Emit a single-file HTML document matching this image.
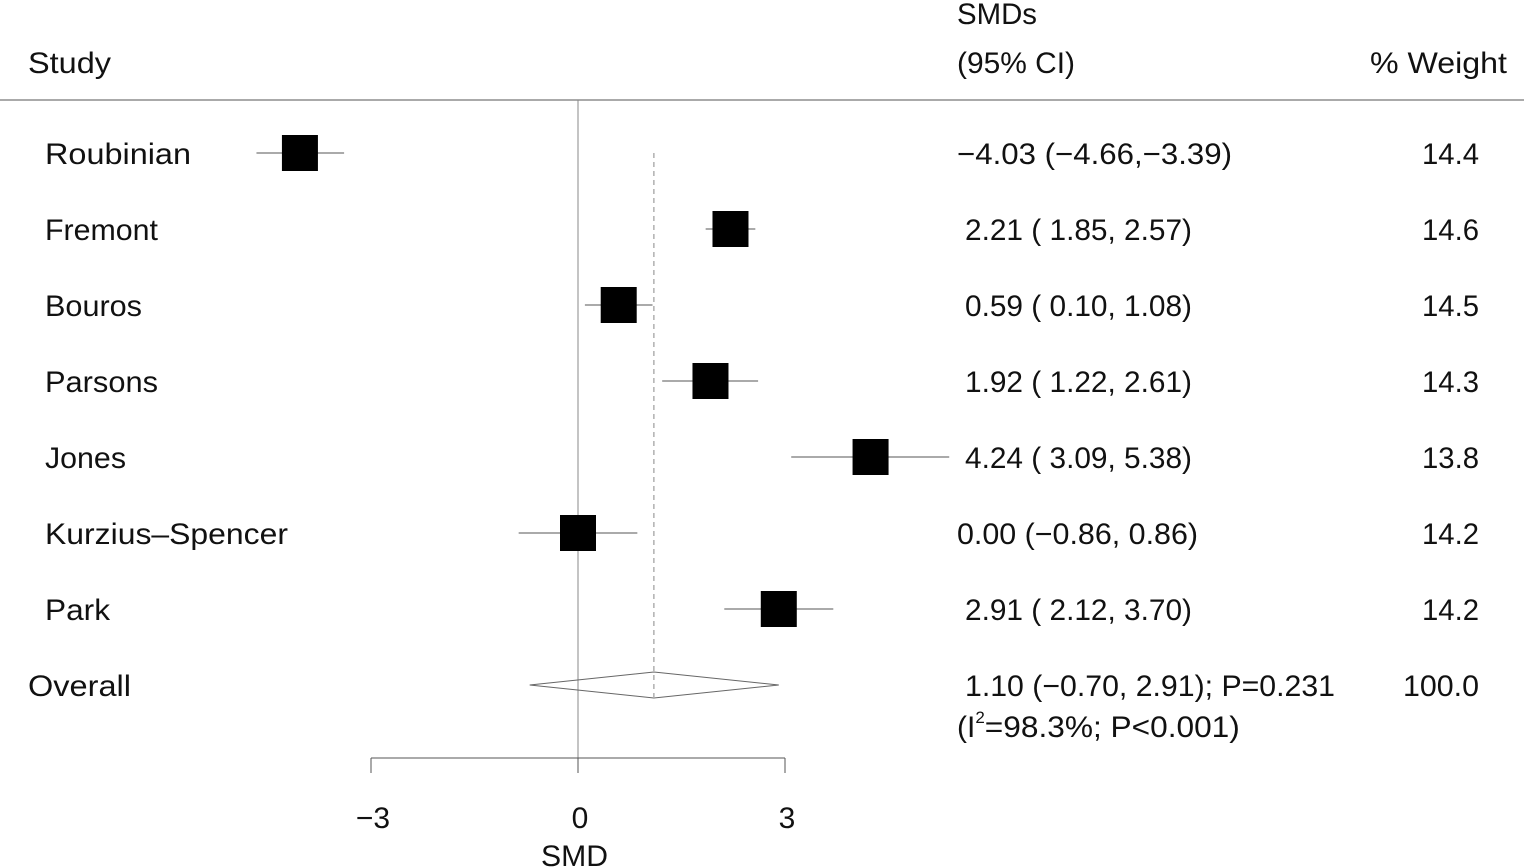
<!DOCTYPE html>
<html><head><meta charset="utf-8"><style>
body{margin:0;background:#fff}
svg{display:block;font-family:"Liberation Sans",sans-serif;font-size:30px;fill:#111}
</style></head><body>
<svg id="chart" width="1524" height="868">
<text x="957" y="24" textLength="80" lengthAdjust="spacingAndGlyphs">SMDs</text>
<text x="28" y="73" textLength="83" lengthAdjust="spacingAndGlyphs">Study</text>
<text x="957" y="73" textLength="118" lengthAdjust="spacingAndGlyphs">(95% CI)</text>
<text x="1370" y="73" textLength="137" lengthAdjust="spacingAndGlyphs">% Weight</text>
<line x1="0" y1="100" x2="1524" y2="100" stroke="#555" stroke-width="1"/>
<g id="marks"></g>
</svg>
<script>
const studies=["Roubinian","Fremont","Bouros","Parsons","Jones","Kurzius\u2013Spencer","Park"];
const smd=[-4.03,2.21,0.59,1.92,4.24,0.00,2.91];
const lo=[-4.66,1.85,0.10,1.22,3.09,-0.86,2.12];
const hi=[-3.39,2.57,1.08,2.61,5.38,0.86,3.70];
const weights=["14.4","14.6","14.5","14.3","13.8","14.2","14.2"];
const overall=[1.10,-0.70,2.91];
const ticks=[-3,0,3];
const NS="http://www.w3.org/2000/svg";
const g=document.getElementById('marks');
const X=v=>578+69*v, Y=i=>153+76*i;
const CW=7.5;
function mk(t,a,parent){const e=document.createElementNS(NS,t);for(const k in a)e.setAttribute(k,a[k]);(parent||g).appendChild(e);return e;}
function fit(el,w){el.setAttribute('textLength',w);el.setAttribute('lengthAdjust','spacingAndGlyphs');}
const fmt=v=>(v<0?"\u2212":"")+Math.abs(v).toFixed(2);
const fmtP=v=>v<0?fmt(v):" "+fmt(v);
let e=mk('line',{x1:X(0),y1:100,x2:X(0),y2:758,stroke:'#888','stroke-width':1});


e=mk('line',{x1:X(overall[0]),y1:Y(0),x2:X(overall[0]),y2:697,stroke:'#888','stroke-width':1,'stroke-dasharray':'5,4'});


studies.forEach((s,i)=>{
  const y=Y(i);
  let l=mk('line',{x1:X(lo[i]),y1:y,x2:X(hi[i]),y2:y,stroke:'#555','stroke-width':1});
  
  
  let r=mk('rect',{x:X(smd[i])-18,y:y-18,width:36,height:36,fill:'#000'});
  
  
  let t=mk('text',{x:45,y:y+11});t.textContent=s;
  fit(t,Math.round(s.length*16.2));
  
  
  const str=(smd[i]<0?fmt(smd[i]):fmtP(smd[i]).trim())+" ("+fmtP(lo[i])+(lo[i]<0&&smd[i]<0?",":", ")+fmt(hi[i])+")";
  const neg=smd[i]<0||lo[i]<0;
  let c=mk('text',{x:neg?957:965,y:y+11});
  c.textContent=str;
  fit(c,smd[i]<0?275:(lo[i]<0?241:227));
  
  
  let w=mk('text',{x:1422,y:y+11});w.textContent=weights[i];
  fit(w,57);
  
  
});
const oy=685;
let d=mk('polygon',{points:`${X(overall[1])},${oy} ${X(overall[0])},${oy-13} ${X(overall[2])},${oy} ${X(overall[0])},${oy+13}`,fill:'none',stroke:'#666','stroke-width':1});


let ot=mk('text',{x:28,y:oy+11});ot.textContent="Overall";fit(ot,103);


let oc=mk('text',{x:965,y:oy+11});oc.textContent=fmt(overall[0])+" ("+fmt(overall[1])+", "+fmt(overall[2])+"); P=0.231";fit(oc,370);


let oi=mk('text',{x:957,y:oy+52});oi.innerHTML='(I<tspan font-size="17" dy="-14">2</tspan><tspan dy="14" textLength="255" lengthAdjust="spacingAndGlyphs">=98.3%; P&lt;0.001)</tspan>';


let ow=mk('text',{x:1403,y:oy+11});ow.textContent="100.0";fit(ow,76);


let ax=mk('line',{x1:X(ticks[0]),y1:758,x2:X(ticks[ticks.length-1]),y2:758,stroke:'#555','stroke-width':1});


ticks.forEach(v=>{
  let tk=mk('line',{x1:X(v),y1:758,x2:X(v),y2:773,stroke:'#555','stroke-width':1});
  
  
  let tl=mk('text',{x:X(v)+2,y:828,'text-anchor':'middle'});tl.textContent=(v<0?"\u2212":"")+Math.abs(v);
  
  
});
let xt=mk('text',{x:541,y:866});xt.textContent="SMD";fit(xt,67);


</script>
</body></html>
